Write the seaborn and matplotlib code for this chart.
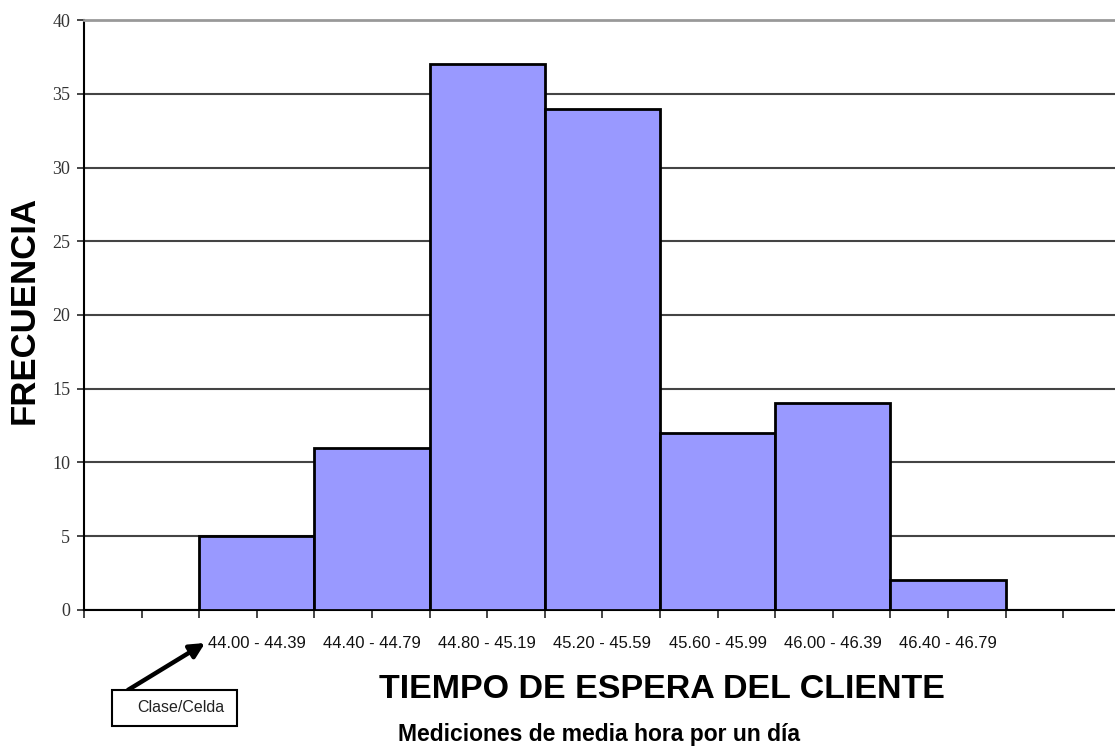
import seaborn as sns
import matplotlib.pyplot as plt
from matplotlib.patches import Rectangle
import pandas as pd

sns.set_style('white')

CLASES = ['44.00 - 44.39', '44.40 - 44.79', '44.80 - 45.19', '45.20 - 45.59',
          '45.60 - 45.99', '46.00 - 46.39', '46.40 - 46.79']
FRECUENCIA = [5, 11, 37, 34, 12, 14, 2]
Y_TICKS = [0, 5, 10, 15, 20, 25, 30, 35, 40]

BAR_COLOR = '#9999ff'
SANS = ['Liberation Sans', 'DejaVu Sans']
SERIF = ['Liberation Serif', 'DejaVu Serif']

df = pd.DataFrame({'clase': CLASES, 'frecuencia': FRECUENCIA})

fig = plt.figure(figsize=(11.15, 7.53), dpi=100)
ax = fig.add_axes([0.0753, 0.19, 0.93, 0.7834])

sns.barplot(data=df, x='clase', y='frecuencia', color=BAR_COLOR, saturation=1,
            width=1.0, edgecolor='black', linewidth=2, ax=ax, zorder=3)

ax.set_xlim(-1.5, 7.5)
ax.set_ylim(0, 40)
ax.set_yticks(Y_TICKS)
ax.set_yticklabels([str(v) for v in Y_TICKS], family=SERIF, fontsize=13, color='#333333')

# ticks at bar edges and centres, labels only under the bars
pos = [i / 2 for i in range(-3, 16)]
ax.set_xticks(pos)
labels = []
for p in pos:
    if p == int(p) and 0 <= p < len(CLASES):
        labels.append(CLASES[int(p)])
    else:
        labels.append('')
ax.set_xticklabels(labels, family=SANS, fontsize=12, color='#111111')
ax.tick_params(axis='x', direction='out', length=6, width=1.2, pad=13, bottom=True)
ax.tick_params(axis='y', direction='out', length=5, width=1.2, left=True, pad=5)

ax.yaxis.grid(True, color='#444444', linewidth=1.5)
ax.set_axisbelow(True)
ax.get_ygridlines()[-1].set_visible(False)

for s in ['left', 'bottom']:
    ax.spines[s].set_color('black')
    ax.spines[s].set_linewidth(1.5)
ax.spines['top'].set_color('#999999')
ax.spines['top'].set_linewidth(2)
ax.spines['right'].set_visible(False)

ax.set_xlabel('')
ax.set_ylabel('FRECUENCIA', family=SANS, fontsize=25, fontweight='bold', color='black')
ax.yaxis.set_label_coords(-0.042, 0.508)

fig.text(0.594, 0.0837, 'TIEMPO DE ESPERA DEL CLIENTE', family=SANS, fontsize=24.5,
         fontweight='bold', ha='center', va='center', color='black')
fig.text(0.537, 0.024, 'Mediciones de media hora por un día', family=SANS, fontsize=16.5,
         fontweight='bold', ha='center', va='center', color='black')

# "Clase/Celda" callout
fig.add_artist(Rectangle((0.1004, 0.0359), 0.1122, 0.0478, transform=fig.transFigure,
                         facecolor='white', edgecolor='black', linewidth=1.5))
fig.text(0.1229, 0.0598, 'Clase/Celda', family=SANS, fontsize=11.5, ha='left',
         va='center', color='#222222')
ax.annotate('', xy=(0.1839, 0.1461), xytext=(0.1148, 0.0837), xycoords='figure fraction',
            textcoords='figure fraction',
            arrowprops=dict(arrowstyle='-|>', color='black', lw=3.2, mutation_scale=22,
                            shrinkA=0, shrinkB=0))

fig.savefig('out.png', dpi=100)
